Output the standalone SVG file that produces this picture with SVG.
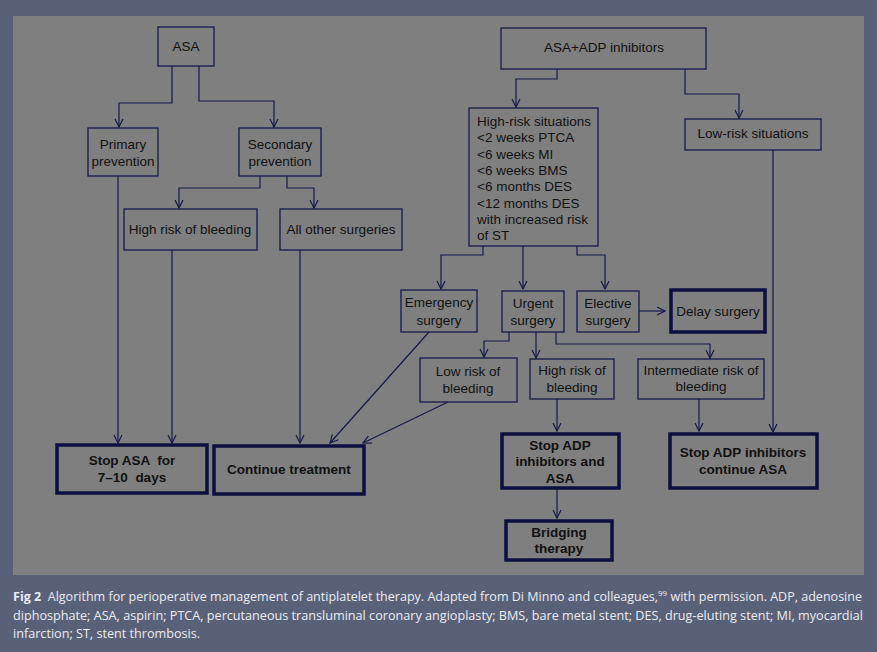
<svg xmlns="http://www.w3.org/2000/svg" width="877" height="652" viewBox="0 0 877 652">
<defs>
<marker id="ah" viewBox="0 0 10 10" refX="9" refY="5" markerWidth="10" markerHeight="10" markerUnits="userSpaceOnUse" orient="auto">
<polyline points="1,1 9,5 1,9" fill="none" stroke="#141a4c" stroke-width="1.2"/>
</marker>
<style>
.box{fill:none;stroke:#141a4c;stroke-width:1.3}
.tbox{fill:none;stroke:#0c1040;stroke-width:3.5}
.t{font-family:"Liberation Sans",Arial,sans-serif;font-size:13.5px;fill:#111;text-anchor:middle}
.tl{font-family:"Liberation Sans",Arial,sans-serif;font-size:13.5px;fill:#111}
.b{font-weight:bold}
.pre{white-space:pre}
.c{fill:none;stroke:#141a4c;stroke-width:1.2;marker-end:url(#ah)}
.cap{font-family:"Open Sans","Liberation Sans",sans-serif;font-size:12.5px;fill:#ececf2}
</style>
</defs>
<rect x="0" y="0" width="877" height="652" fill="#596179"/>
<rect x="13" y="16" width="851" height="559" fill="#7f7f7f"/>

<g id="connectors">
<polyline class="c" points="172,66 172,103 119,103 119,127"/>
<polyline class="c" points="199,66 199,101 274,101 274,127"/>
<polyline class="c" points="260,176 260,188 179,188 179,208"/>
<polyline class="c" points="287,176 287,188 314,188 314,208"/>
<polyline class="c" points="118,176 118,443"/>
<polyline class="c" points="172,250 172,443"/>
<polyline class="c" points="300,250 300,443"/>
<polyline class="c" points="557,69 557,79 516,79 516,107"/>
<polyline class="c" points="685,69 685,94 739,94 739,118"/>
<polyline class="c" points="483,246 483,255 441,255 441,289"/>
<polyline class="c" points="523,246 523,289"/>
<polyline class="c" points="577,246 577,255 605,255 605,289"/>
<polyline class="c" points="773,150 773,432"/>
<polyline class="c" points="429,332 330,443"/>
<polyline class="c" points="448,402 363,443"/>
<polyline class="c" points="639,311 665,311"/>
<polyline class="c" points="509,332 509,341 484,341 484,357"/>
<polyline class="c" points="536,332 536,358"/>
<polyline class="c" points="556,332 556,344 710,344 710,358"/>
<polyline class="c" points="557,399 557,431"/>
<polyline class="c" points="699,399 699,431"/>
<polyline class="c" points="557,488 557,518"/>
</g>

<g id="asa"><rect class="box" x="158" y="27" width="56" height="39"/><text class="t" x="186" y="51">ASA</text></g>
<g id="primary"><rect class="box" x="88" y="128" width="70" height="48"/><text class="t" x="123" y="149">Primary</text><text class="t" x="123" y="166">prevention</text></g>
<g id="secondary"><rect class="box" x="239" y="128" width="82" height="48"/><text class="t" x="280" y="149">Secondary</text><text class="t" x="280" y="166">prevention</text></g>
<g id="highbleedL"><rect class="box" x="124" y="209" width="133" height="41"/><text class="t" x="190" y="234">High risk of bleeding</text></g>
<g id="allother"><rect class="box" x="280" y="209" width="122" height="41"/><text class="t" x="341" y="234">All other surgeries</text></g>
<g id="stopasa"><rect class="tbox" x="57" y="445" width="150" height="48"/><text class="t b pre" x="132" y="465">Stop ASA  for</text><text class="t b pre" x="132" y="482">7–10  days</text></g>
<g id="continue"><rect class="tbox" x="214" y="446" width="150" height="48"/><text class="t b" x="289" y="474">Continue treatment</text></g>

<g id="asaadp"><rect class="box" x="501" y="28" width="205" height="41"/><text class="t" x="604" y="52">ASA+ADP inhibitors</text></g>
<g id="highrisk"><rect class="box" x="469" y="108" width="129" height="138"/>
<text class="tl" x="477" y="126">High-risk situations</text>
<text class="tl" x="477" y="142">&lt;2 weeks PTCA</text>
<text class="tl" x="477" y="159">&lt;6 weeks MI</text>
<text class="tl" x="477" y="175">&lt;6 weeks BMS</text>
<text class="tl" x="477" y="191">&lt;6 months DES</text>
<text class="tl" x="477" y="208">&lt;12 months DES</text>
<text class="tl" x="477" y="224">with increased risk</text>
<text class="tl" x="477" y="240">of ST</text>
</g>
<g id="lowrisk"><rect class="box" x="685" y="119" width="136" height="31"/><text class="t" x="753" y="138">Low-risk situations</text></g>
<g id="emergency"><rect class="box" x="401" y="290" width="76" height="42"/><text class="t" x="439" y="307">Emergency</text><text class="t" x="439" y="325">surgery</text></g>
<g id="urgent"><rect class="box" x="502" y="291" width="62" height="41"/><text class="t" x="533" y="308">Urgent</text><text class="t" x="533" y="325">surgery</text></g>
<g id="elective"><rect class="box" x="577" y="291" width="62" height="41"/><text class="t" x="608" y="308">Elective</text><text class="t" x="608" y="325">surgery</text></g>
<g id="delay"><rect class="tbox" x="671" y="290" width="94" height="42"/><text class="t" x="718" y="316">Delay surgery</text></g>
<g id="lowbleed"><rect class="box" x="420" y="358" width="97" height="44"/><text class="t" x="468" y="376">Low risk of</text><text class="t" x="468" y="393">bleeding</text></g>
<g id="highbleedR"><rect class="box" x="530" y="359" width="84" height="40"/><text class="t" x="572" y="375">High risk of</text><text class="t" x="572" y="392">bleeding</text></g>
<g id="intermediate"><rect class="box" x="638" y="359" width="126" height="40"/><text class="t" x="701" y="375">Intermediate risk of</text><text class="t" x="701" y="391">bleeding</text></g>
<g id="stopadpasa"><rect class="tbox" x="502" y="434" width="117" height="54"/><text class="t b" x="560" y="450">Stop ADP</text><text class="t b" x="560" y="466">inhibitors and</text><text class="t b" x="560" y="483">ASA</text></g>
<g id="bridging"><rect class="tbox" x="506" y="521" width="106" height="39"/><text class="t b" x="559" y="537">Bridging</text><text class="t b" x="559" y="553">therapy</text></g>
<g id="stopadpcont"><rect class="tbox" x="670" y="434" width="147" height="54"/><text class="t b" x="743" y="457">Stop ADP inhibitors</text><text class="t b" x="743" y="474">continue ASA</text></g>

<g id="caption">
<text class="cap pre" x="13" y="601" textLength="849" lengthAdjust="spacingAndGlyphs"><tspan font-weight="bold">Fig 2</tspan>  Algorithm for perioperative management of antiplatelet therapy. Adapted from Di Minno and colleagues,<tspan font-size="8" dy="-5">99</tspan><tspan dy="5"> with permission. ADP, adenosine</tspan></text>
<text class="cap" x="13" y="620" textLength="850" lengthAdjust="spacingAndGlyphs">diphosphate; ASA, aspirin; PTCA, percutaneous transluminal coronary angioplasty; BMS, bare metal stent; DES, drug-eluting stent; MI, myocardial</text>
<text class="cap" x="13" y="638" textLength="187" lengthAdjust="spacingAndGlyphs">infarction; ST, stent thrombosis.</text>
</g>
</svg>
